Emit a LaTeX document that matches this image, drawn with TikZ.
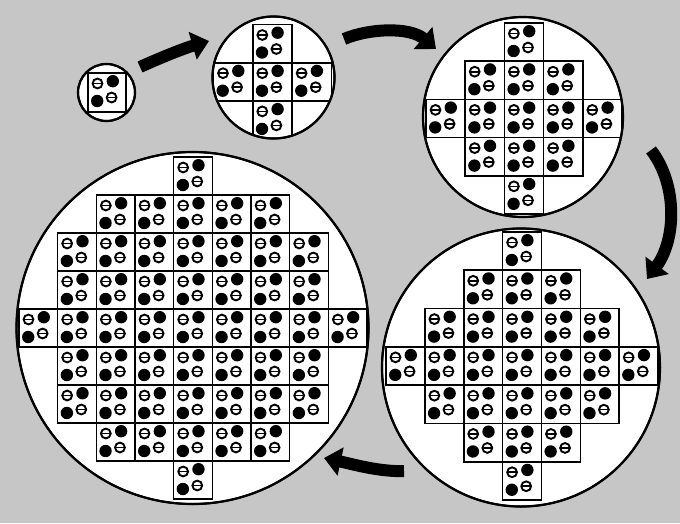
\documentclass[tikz,border=0pt]{standalone}
\usetikzlibrary{arrows.meta}
\definecolor{bgray}{RGB}{198,198,198}
\tikzset{
  cellbox/.style={draw=black, line width=1.6pt},
  wafer/.style={draw=black, line width=2pt, fill=white},
  waferrim/.style={draw=black, line width=2.2pt},
  fulldot/.style={fill=black},
  halfdot/.style={draw=black, fill=white, line width=1.9pt},
  halfbar/.style={draw=black, line width=1.6pt},
  bigarrow/.style={draw=black, line width=12pt, -{Triangle[length=17pt,width=28pt]}},
}
\newcommand\dcell[2]{%
  \draw[cellbox] (0,0) rectangle (#1,#2);
  \draw[halfdot] (9.5,10.5) circle[radius=4.9pt];
  \draw[halfbar] (5,10.5) -- (14,10.5);
  \fill[fulldot] (24.8,8.2) circle[radius=6.2pt];
  \fill[fulldot] (9.2,28) circle[radius=6.2pt];
  \draw[halfdot] (23.6,24.5) circle[radius=4.9pt];
  \draw[halfbar] (19.1,24.5) -- (28.1,24.5);
}
% #1 x0, #2 y0, #3 w, #4 h, #5 row list r/a/b
\newcommand\dgrid[5]{%
  \foreach \r/\a/\b in {#5} {
    \foreach \c in {\a,...,\b} {
      \begin{scope}[shift={(#1+\c*#3,#2+\r*#4)}]
        \dcell{#3}{#4}
      \end{scope}
    }
  }
}
\begin{document}
\begin{tikzpicture}[x=1pt,y=-1pt]
  \useasboundingbox (0,0) rectangle (680,523);
  \fill[bgray] (0,0) rectangle (680,523);

  \coordinate (c1) at (106.5,92.5);
  \coordinate (c2) at (273.5,77.5);
  \coordinate (c3) at (523,117);
  \coordinate (c4) at (521,367.5);
  \coordinate (c5) at (192.5,328);

  % wafer 1
  \path[wafer] (c1) circle[radius=28.5pt];
  \begin{scope}
    \clip (c1) circle[radius=28pt];
    \dgrid{88}{73}{38}{39}{0/0/0}
  \end{scope}
  \draw[waferrim] (c1) circle[radius=28.5pt];

  % wafer 2
  \path[wafer] (c2) circle[radius=61pt];
  \begin{scope}
    \clip (c2) circle[radius=60.5pt];
    \dgrid{213.5}{24.5}{39.3}{38.2}{0/1/1,1/0/2,2/1/1}
  \end{scope}
  \draw[waferrim] (c2) circle[radius=61pt];

  % wafer 3
  \path[wafer] (c3) circle[radius=100pt];
  \begin{scope}
    \clip (c3) circle[radius=99.5pt];
    \dgrid{426}{23}{39.2}{38.2}{0/2/2,1/1/3,2/0/4,3/1/3,4/2/2}
  \end{scope}
  \draw[waferrim] (c3) circle[radius=100pt];

  % wafer 4
  \path[wafer] (c4) circle[radius=139pt];
  \begin{scope}
    \clip (c4) circle[radius=138.5pt];
    \dgrid{386}{232}{38.86}{38.29}{0/3/3,1/2/4,2/1/5,3/0/6,4/1/5,5/2/4,6/3/3}
  \end{scope}
  \draw[waferrim] (c4) circle[radius=139pt];

  % wafer 5
  \path[wafer] (c5) circle[radius=176pt];
  \begin{scope}
    \clip (c5) circle[radius=175.5pt];
    \dgrid{19}{157}{38.67}{38}{0/4/4,1/2/6,2/1/7,3/1/7,4/0/8,5/1/7,6/1/7,7/2/6,8/4/4}
  \end{scope}
  \draw[waferrim] (c5) circle[radius=176pt];

  % arrows
  \coordinate (a1s) at (140,67);
  \coordinate (a1e) at (209,41);
  \coordinate (a2s) at (344,39);
  \coordinate (a2e) at (436,49);
  \coordinate (a3s) at (651,150);
  \coordinate (a3e) at (647,279);
  \coordinate (a4s) at (404,471);
  \coordinate (a4e) at (324,458);

  \draw[bigarrow] (a1s) .. controls (162,57) and (185,48) .. (a1e);
  \draw[bigarrow] (a2s) .. controls (370,28) and (410,27) .. (a2e);
  \draw[bigarrow] (a3s) .. controls (678,185) and (676,240) .. (a3e);
  \draw[bigarrow] (a4s) .. controls (380,472) and (352,464) .. (a4e);
\end{tikzpicture}
\end{document}
